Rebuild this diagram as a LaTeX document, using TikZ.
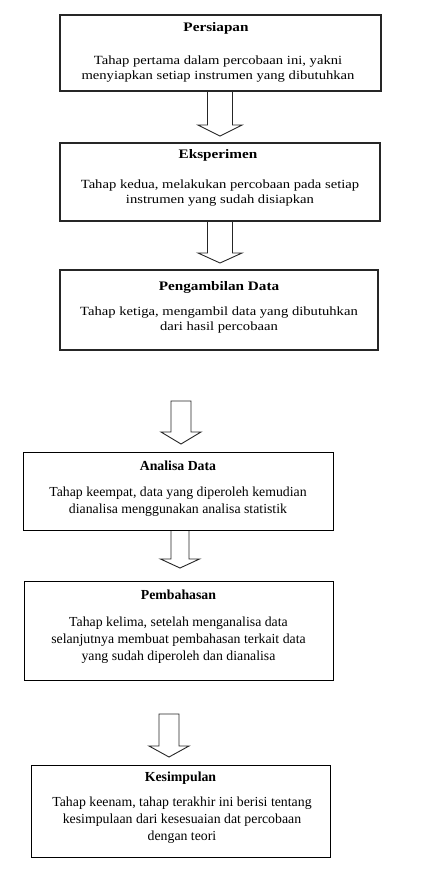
\documentclass[tikz,border=0pt]{standalone}
\usepackage{fontspec}
\setmainfont{Liberation Serif}
\newfontfamily\topfont[FakeStretch=1.17]{Liberation Serif}
\tikzset{
  boxtop/.style={draw=black!85, line width=1.8pt, inner sep=0pt, outer sep=0pt},
  boxbot/.style={draw=black, line width=1pt, inner sep=0pt, outer sep=0pt},
  ttop/.style={font=\topfont\fontsize{13}{15}\selectfont\bfseries, inner sep=0pt},
  btop/.style={font=\topfont\fontsize{12.5}{15}\selectfont, align=center, inner sep=0pt},
  tbot/.style={font=\fontsize{13.8}{17}\selectfont\bfseries, inner sep=0pt},
  bbot/.style={font=\fontsize{13.8}{17}\selectfont, align=center, inner sep=0pt},
  barrow/.style={draw=black!85, line width=0.9pt, line join=miter}
}
\newcommand\openarrow[6]{%
  \draw[barrow] ({#1-#5},#2) -- ({#1-#5},#3) -- ({#1-#6},#3) -- (#1,#4)
    -- ({#1+#6},#3) -- ({#1+#5},#3) -- ({#1+#5},#2);}
\newcommand\closedarrow[6]{%
  \draw[barrow] ({#1-#5},#2) -- ({#1-#5},#3) -- ({#1-#6},#3) -- (#1,#4)
    -- ({#1+#6},#3) -- ({#1+#5},#3) -- ({#1+#5},#2) -- cycle;}
\begin{document}
\begin{tikzpicture}[x=1pt,y=-1pt]
\useasboundingbox (0,0) rectangle (436,892);
% boxes
\node[boxtop, minimum width=321pt, minimum height=76pt] (b1) at (220.5,53) {};
\node[boxtop, minimum width=320pt, minimum height=78pt] (b2) at (220,182) {};
\node[boxtop, minimum width=318pt, minimum height=80pt] (b3) at (219,310) {};
\node[boxbot, minimum width=310pt, minimum height=78pt] (b4) at (178,491) {};
\node[boxbot, minimum width=309pt, minimum height=99pt] (b5) at (178.5,630.5) {};
\node[boxbot, minimum width=299pt, minimum height=92pt] (b6) at (180.5,811) {};
% titles
\node[ttop] (t1) at (216,28) {Persiapan};
\node[ttop] (t2) at (218,155) {Eksperimen};
\node[ttop] (t3) at (219,287) {Pengambilan Data};
\node[tbot] (t4) at (178,466) {Analisa Data};
\node[tbot] (t5) at (178.5,595) {Pembahasan};
\node[tbot] (t6) at (180.5,778) {Kesimpulan};
% bodies
\node[btop] (d1) at (218,69.5) {Tahap pertama dalam percobaan ini, yakni\\menyiapkan setiap instrumen yang dibutuhkan};
\node[btop] (d2) at (220,193) {Tahap kedua, melakukan percobaan pada setiap\\instrumen yang sudah disiapkan};
\node[btop] (d3) at (219,320) {Tahap ketiga, mengambil data yang dibutuhkan\\dari hasil percobaan};
\node[bbot] (d4) at (178,501.5) {Tahap keempat, data yang diperoleh kemudian\\dianalisa menggunakan analisa statistik};
\node[bbot] (d5) at (178.5,640) {Tahap kelima, setelah menganalisa data\\selanjutnya membuat pembahasan terkait data\\yang sudah diperoleh dan dianalisa};
\node[bbot] (d6) at (182,820) {Tahap keenam, tahap terakhir ini berisi tentang\\kesimpulaan dari kesesuaian dat percobaan\\dengan teori};
% block arrows
\openarrow{220}{92}{125}{136}{12.5}{22}
\openarrow{220}{222}{253}{263}{12.5}{22}
\closedarrow{181}{401}{432}{444}{10}{20}
\openarrow{180}{531}{559}{568}{9}{19.5}
\closedarrow{169}{714}{746}{757}{10}{20}
\end{tikzpicture}
\end{document}
